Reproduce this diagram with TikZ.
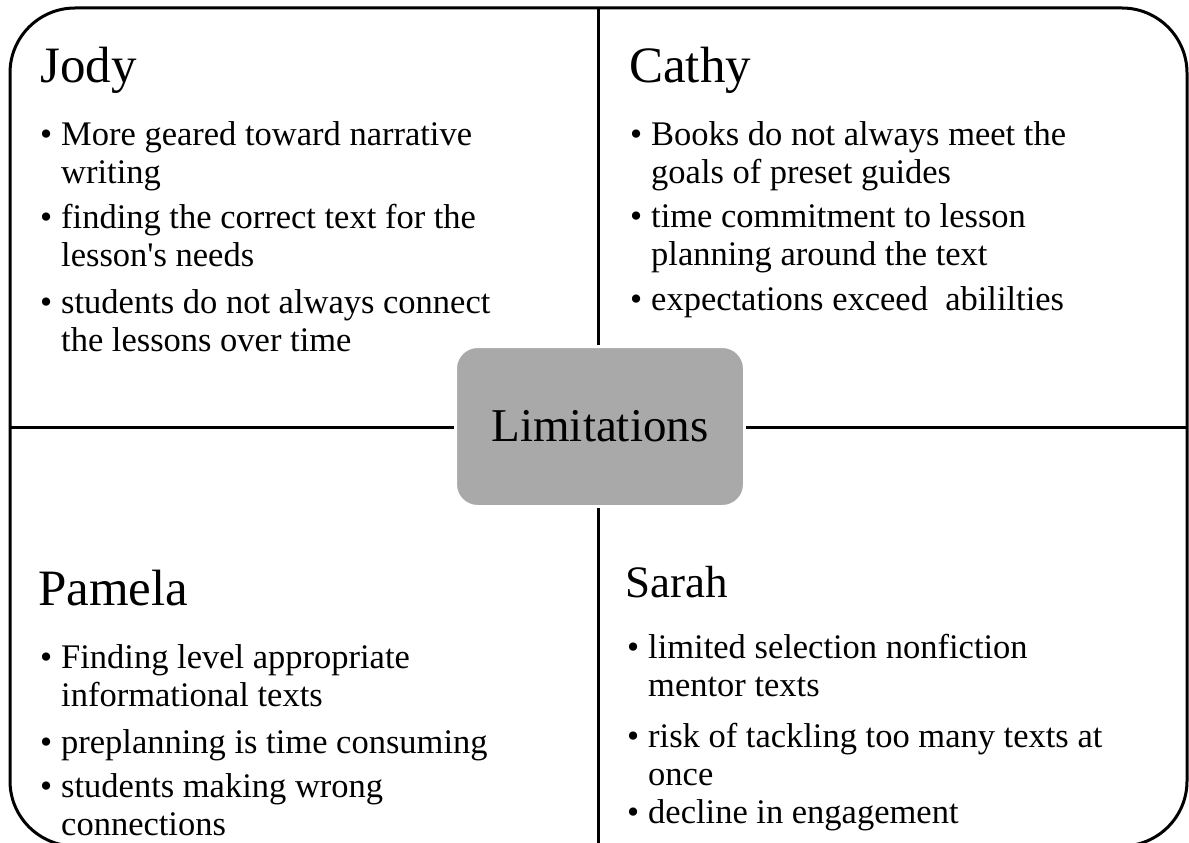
\documentclass[tikz,border=0pt]{standalone}
\usepackage{fontspec}
\setmainfont{Liberation Serif}
\definecolor{hubgray}{HTML}{A9A9A9}
\newcommand{\bul}[1]{\makebox[21pt][l]{\textbullet}\parbox[t]{520pt}{\raggedright #1}}
\begin{document}
\begin{tikzpicture}[x=1pt,y=-1pt,
  frame/.style={line width=3pt, draw=black},
  divider/.style={line width=3pt, draw=black},
  title/.style={anchor=base west, inner sep=0pt, font=\fontsize{51}{60}\selectfont},
  stitle/.style={anchor=base west, inner sep=0pt, font=\fontsize{45}{54}\selectfont},
  item/.style={anchor=base west, inner sep=0pt, font=\fontsize{34.5}{38.5}\selectfont},
  hub/.style={rounded corners=22pt, fill=hubgray, draw=white, line width=3pt,
    minimum width=289pt, minimum height=160pt, inner sep=0pt,
    font=\fontsize{47}{56}\selectfont}]
\useasboundingbox (0,0) rectangle (1189,843);
\clip (0,0) rectangle (1189,843);
\fill[white] (0,0) rectangle (1189,843);
% outer frame
\draw[frame, rounded corners=65pt] (10,8) rectangle (1187,846);
% hub
\node[hub] (hub) at (600,426.5) {Limitations};
% dividers
\coordinate (ttop) at (598,8);
\coordinate (tbot) at (598,846);
\coordinate (lft) at (10,427);
\coordinate (rgt) at (1187,427);
\draw[divider] (ttop) -- (ttop |- hub.north);
\draw[divider] (tbot |- hub.south) -- (tbot);
\draw[divider] (lft) -- (lft -| hub.west);
\draw[divider] (rgt -| hub.east) -- (rgt);
% Jody
\node[title] (jody) at (40,82) {Jody};
\node[item] (j1) at (40,145) {\bul{More geared toward narrative\\writing}};
\node[item] (j2) at (40,228) {\bul{finding the correct text for the\\lesson\textquotesingle s needs}};
\node[item] (j3) at (40,313) {\bul{students do not always connect\\the lessons over time}};
% Cathy
\node[title] (cathy) at (629,82) {Cathy};
\node[item] (c1) at (630,145) {\bul{Books do not always meet the\\goals of preset guides}};
\node[item] (c2) at (630,227) {\bul{time commitment to lesson\\planning around the text}};
\node[item] (c3) at (630,310) {\bul{expectations exceed\ \ abililties}};
% Pamela
\node[title] (pamela) at (38,605) {Pamela};
\node[item] (p1) at (40,668) {\bul{Finding level appropriate\\informational texts}};
\node[item] (p2) at (40,753) {\bul{preplanning is time consuming}};
\node[item] (p3) at (40,797) {\bul{students making wrong\\connections}};
% Sarah
\node[stitle] (sarah) at (625,597) {Sarah};
\node[item] (s1) at (627,658) {\bul{limited selection nonfiction\\mentor texts}};
\node[item] (s2) at (627,747) {\bul{risk of tackling too many texts at\\once}};
\node[item] (s3) at (627,823) {\bul{decline in engagement}};
\end{tikzpicture}
\end{document}
